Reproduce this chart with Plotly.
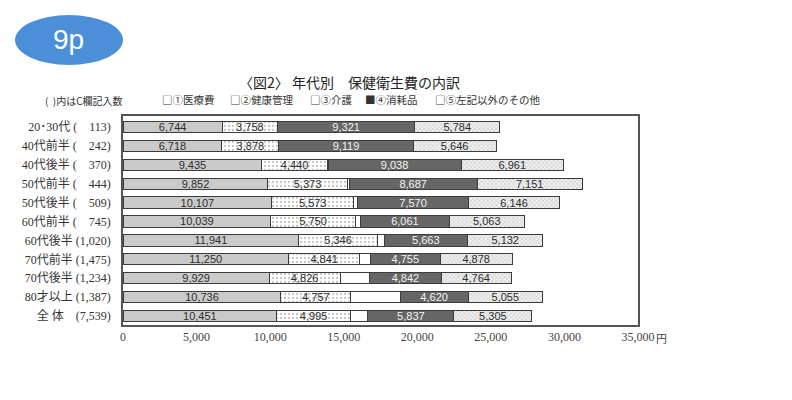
import plotly.graph_objects as go

categories = ["20･30代 (　113)", "40代前半 (　242)", "40代後半 (　370)", "50代前半 (　444)",
              "50代後半 (　509)", "60代前半 (　745)", "60代後半 (1,020)", "70代前半 (1,475)",
              "70代後半 (1,234)", "80才以上 (1,387)", "全 体　(7,539)"]
medical = [6744, 6718, 9435, 9852, 10107, 10039, 11941, 11250, 9929, 10736, 10451]
health = [3758, 3878, 4440, 5373, 5573, 5750, 5346, 4841, 4826, 4757, 4995]
care = [0, 0, 60, 150, 250, 340, 460, 720, 2020, 3340, 1200]
supplies = [9321, 9119, 9038, 8687, 7570, 6061, 5663, 4755, 4842, 4620, 5837]
other = [5784, 5646, 6961, 7151, 6146, 5063, 5132, 4878, 4764, 5055, 5305]
series_names = ["①医療費", "②健康管理", "③介護", "④消耗品", "⑤左記以外のその他"]
legend_marks = ["□", "□", "□", "■", "□"]
x_ticks = [0, 5000, 10000, 15000, 20000, 25000, 30000, 35000]
x_ticktext = ["0", "5,000", "10,000", "15,000", "20,000", "25,000", "30,000", "35,000"]

bar_font = "Liberation Sans Narrow, Arial Narrow, Liberation Sans, sans-serif"
serif = "Liberation Serif, Noto Sans CJK JP, serif"
cjk = "Noto Sans CJK JP, sans-serif"
line = dict(color="#3c3c3c", width=1)

fig = go.Figure()
styles = [
    dict(marker=dict(color="#cacaca", line=line), tc="#2e2e2e"),
    dict(marker=dict(color="#ffffff", line=line,
                     pattern=dict(shape=".", fgcolor="#8a8a8a", bgcolor="#ffffff", size=4, solidity=0.25)),
         tc="#2e2e2e"),
    dict(marker=dict(color="#ffffff", line=line), tc="#2e2e2e"),
    dict(marker=dict(color="#666666", line=line), tc="#f2f2f2"),
    dict(marker=dict(color="#e6e6e6", line=line,
                     pattern=dict(shape="x", fgcolor="#9a9a9a", bgcolor="#f0f0f0", size=3, solidity=0.35)),
         tc="#2e2e2e"),
]
for i, (name, vals) in enumerate(zip(series_names, [medical, health, care, supplies, other])):
    st = styles[i]
    fig.add_trace(go.Bar(
        y=categories, x=vals, name=name, orientation="h", width=0.6,
        marker=st["marker"],
        text=None if i == 2 else [f"{v:,}" for v in vals],
        textposition="inside", insidetextanchor="middle", textangle=0, constraintext="none",
        textfont=dict(size=11, family=bar_font, color=st["tc"]),
        hoverinfo="x+name",
    ))

legend_x_px = [160, 228, 308, 363, 433]
annotations = [
    dict(text="9p", xref="paper", yref="paper", x=-0.105, y=1.364, xanchor="center", yanchor="middle",
         showarrow=False, font=dict(family="Liberation Sans, Arial, sans-serif", size=28, color="#ffffff")),
    dict(text="〈図2〉 年代別　保健衛生費の内訳", xref="paper", yref="paper", x=0.44, y=1.163,
         xanchor="center", yanchor="middle", showarrow=False,
         font=dict(family=cjk, size=14, color="#222")),
    dict(text="(  )内はC欄記入数", xref="paper", yref="paper", x=-0.076, y=1.076,
         xanchor="center", yanchor="middle", showarrow=False,
         font=dict(family=cjk, size=10, color="#333")),
    dict(text="円", xref="x", yref="paper", x=35000, xshift=23, y=-0.062, xanchor="center",
         yanchor="middle", showarrow=False, font=dict(family=cjk, size=11, color="#444")),
]
for mark, name, px in zip(legend_marks, series_names, legend_x_px):
    annotations.append(dict(text=mark + name, xref="paper", yref="paper", x=(px - 123) / 515,
                            y=1.0766, xanchor="left", yanchor="middle", showarrow=False,
                            font=dict(family=cjk, size=10.5, color="#333")))

fig.update_layout(
    width=792, height=400, barmode="stack",
    margin=dict(l=123, r=154, t=116, b=75),
    paper_bgcolor="#ffffff", plot_bgcolor="#ffffff",
    font=dict(family=serif, color="#333333", size=11),
    showlegend=False,
    xaxis=dict(range=[0, 35000], tickvals=x_ticks, ticktext=x_ticktext, showgrid=False,
               zeroline=False, showline=True, mirror=True, linecolor="#555555", linewidth=1.5,
               ticks="", tickfont=dict(family=serif, size=12, color="#444444")),
    yaxis=dict(type="category", categoryorder="array", categoryarray=categories,
               range=[10.475, -0.58], showgrid=False, zeroline=False, showline=True, mirror=True,
               linecolor="#555555", linewidth=1.5, ticks="", ticklabelstandoff=8,
               tickfont=dict(family=serif, size=12, color="#333333")),
    shapes=[dict(type="circle", xref="paper", yref="paper", x0=-0.2097, x1=0.0, y0=1.244, y1=1.483,
                 fillcolor="#4a8fd8", line=dict(width=0))],
    annotations=annotations,
)

fig.write_html("out.html")
